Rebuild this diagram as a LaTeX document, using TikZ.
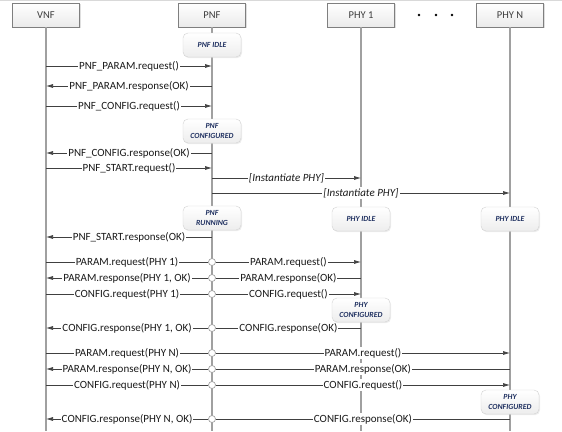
\documentclass[tikz,border=0pt]{standalone}
\usepackage{fontspec}
\setmainfont{Carlito}
\usepackage{xcolor}
\usepackage{tikz}
\usetikzlibrary{arrows.meta,positioning,shadows}
\definecolor{SEQline}{HTML}{A0A0A0}
\definecolor{SEQarrow}{HTML}{404040}
\definecolor{SEQtext}{HTML}{1A1A1A}
\definecolor{SEQnavy}{HTML}{1F3060}
\definecolor{SEQbox}{HTML}{7F7F7F}
\definecolor{SEQstate}{HTML}{D2D2D2}

\tikzset{
  actor/.style={draw=SEQbox, line width=0.8pt, top color=white, bottom color=black!8,
    minimum width=67pt, minimum height=24pt, inner sep=0pt,
    font=\fontsize{10.5}{12}\selectfont, text=SEQtext!85,
    drop shadow={shadow xshift=1pt, shadow yshift=-1pt, fill=black!25}},
  state/.style={draw=SEQstate, rounded corners=5pt, top color=white, bottom color=black!7,
    minimum width=58pt, minimum height=24pt, inner sep=1pt, align=center,
    font=\fontsize{7.8}{9.5}\selectfont\bfseries\itshape, text=SEQnavy,
    drop shadow={shadow xshift=1pt, shadow yshift=-1.2pt, fill=black!15}},
  life/.style={SEQline, line width=1.4pt},
  msg/.style={SEQarrow, line width=0.7pt},
  req/.style={msg, -{Latex[length=7pt,width=4pt]}},
  rsp/.style={msg, {Latex[length=7pt,width=4pt]}-},
  lbl/.style={fill=white, inner sep=1pt, text=SEQtext, font=\fontsize{11}{13}\selectfont},
  hop/.style={circle, draw=SEQline, line width=0.7pt, fill=white, inner sep=0pt, minimum size=7pt}
}

\begin{document}
\begin{tikzpicture}[x=1pt, y=-1pt]
      \useasboundingbox (0,0) rectangle (562,431);
      \draw[black!15, line width=0.8pt] (0,0.6) -- (562,0.6);

      % participants
      \node[actor] (vnf) at (46,15) {VNF};
      \node[actor] (pnf) at (212,15) {PNF};
      \node[actor] (phy1) at (361,15) {PHY 1};
      \node[actor] (phyn) at (510,15) {PHY N};
      \foreach \x in {419,436,452}
        \fill (\x,15) circle (1.3pt);
      \foreach \a in {vnf,pnf,phy1,phyn}
        \draw[life] (\a.south) -- (\a |- 0,431);

      % VNF <-> PNF
      \foreach \y/\t in {66/{PNF\_PARAM.request()}, 106/{PNF\_CONFIG.request()}, 168/{PNF\_START.request()}}
        \draw[req] (vnf |- 0,\y) -- node[lbl]{\t} (pnf |- 0,\y);
      \foreach \y/\t in {86/{PNF\_PARAM.response(OK)}, 153/{PNF\_CONFIG.response(OK)}, 237/{PNF\_START.response(OK)}}
        \draw[rsp] (vnf |- 0,\y) -- node[lbl]{\t} (pnf |- 0,\y);

      % PNF -> PHY
      \draw[req] (pnf |- 0,178) -- node[lbl, font=\fontsize{11}{13}\selectfont\itshape]{[Instantiate PHY]} (phy1 |- 0,178);
      \draw[req] (pnf |- 0,193) -- node[lbl, font=\fontsize{11}{13}\selectfont\itshape]{[Instantiate PHY]} (phyn |- 0,193);

      % VNF -> PNF -> PHY
      \foreach \y/\h/\p/\a/\b in {262/h1/phy1/{PARAM.request(PHY 1)}/{PARAM.request()},
          294/h3/phy1/{CONFIG.request(PHY 1)}/{CONFIG.request()},
          353/h5/phyn/{PARAM.request(PHY N)}/{PARAM.request()},
          385/h7/phyn/{CONFIG.request(PHY N)}/{CONFIG.request()}}{
        \node[hop] (\h) at (pnf |- 0,\y) {};
        \draw[msg] (vnf |- \h) -- node[lbl]{\a} (\h);
        \draw[req] (\h) -- node[lbl]{\b} (\p |- \h);
      }
      % PHY -> PNF -> VNF
      \foreach \y/\h/\p/\a/\b in {278/h2/phy1/{PARAM.response(PHY 1, OK)}/{PARAM.response(OK)},
          328/h4/phy1/{CONFIG.response(PHY 1, OK)}/{CONFIG.response(OK)},
          369/h6/phyn/{PARAM.response(PHY N, OK)}/{PARAM.response(OK)},
          419/h8/phyn/{CONFIG.response(PHY N, OK)}/{CONFIG.response(OK)}}{
        \node[hop] (\h) at (pnf |- 0,\y) {};
        \draw[rsp] (vnf |- \h) -- node[lbl]{\a} (\h);
        \draw[msg] (\h) -- node[lbl]{\b} (\p |- \h);
      }

      % states
      \node[state] (pnfidle) at (pnf |- 0,45) {PNF IDLE};
      \node[state] (pnfconf) at (pnf |- 0,131) {PNF\\CONFIGURED};
      \node[state] (pnfrun) at (pnf |- 0,218) {PNF\\RUNNING};
      \node[state] (phy1idle) at (phy1 |- 0,219) {PHY IDLE};
      \node[state] (phynidle) at (phyn |- 0,219) {PHY IDLE};
      \node[state] (phy1conf) at (phy1 |- 0,310) {PHY\\CONFIGURED};
      \node[state] (phynconf) at (phyn |- 0,402) {PHY\\CONFIGURED};
\end{tikzpicture}
\end{document}
